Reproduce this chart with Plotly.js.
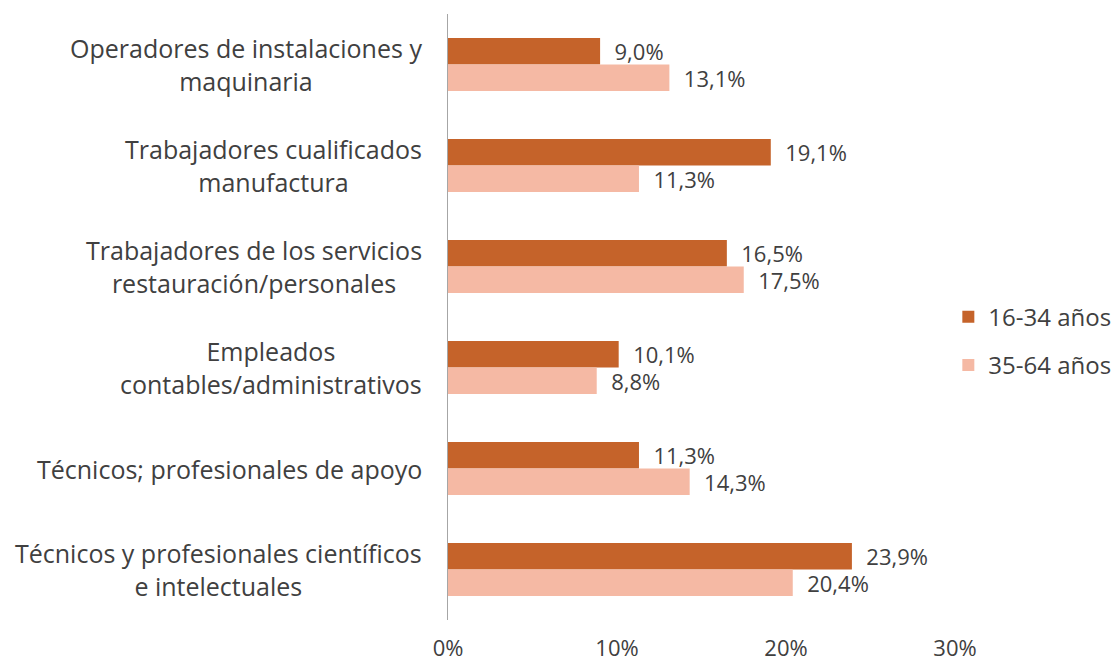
<!DOCTYPE html>
<html>
<head>
<meta charset="utf-8">
<script src="https://cdn.plot.ly/plotly-3.0.1.min.js"></script>
<style>
  html, body { margin: 0; padding: 0; background: #fff; }
</style>
</head>
<body>
<div id="chart" style="width:1117px;height:666px;"></div>
<script>
// ocupaciones (de arriba a abajo)
var categorias = [
  'Operadores de instalaciones y<br>maquinaria',
  'Trabajadores cualificados<br>manufactura',
  'Trabajadores de los servicios<br>restauración/personales',
  'Empleados<br>contables/administrativos',
  'Técnicos; profesionales de apoyo',
  'Técnicos y profesionales científicos<br>e intelectuales'
];

var jovenes = [9.0, 19.1, 16.5, 10.1, 11.3, 23.9];   // 16-34 años
var mayores = [13.1, 11.3, 17.5, 8.8, 14.3, 20.4];   // 35-64 años

var nombres = ['16-34 años', '35-64 años'];
var colores = ['#C5632A', '#F5B9A4'];
var tickVals = [0, 10, 20, 30];
var tickText = ['0%', '10%', '20%', '30%'];

var fuente = '"Open Sans", "Noto Sans", sans-serif';
var gris = '#404040';

var data = [jovenes, mayores].map(function (vals, i) {
  return {
    type: 'bar',
    orientation: 'h',
    x: vals,
    y: categorias,
    name: nombres[i],
    legendgroup: 'g' + i,
    marker: {color: colores[i]},
    texttemplate: '\u00a0\u00a0%{x:.1f}%',
    textposition: 'outside',
    constraintext: 'none',
    cliponaxis: false,
    textfont: {family: fuente, size: 22, color: gris},
    hoverinfo: 'x+name'
  };
});

// etiquetas de categoría centradas, como en el original
var etiquetas = categorias.map(function (c) {
  return {
    text: c,
    xref: 'paper', x: 0, xanchor: 'right', xshift: -24,
    yref: 'y', y: c,
    align: 'center',
    showarrow: false,
    font: {family: fuente, size: 25, color: gris}
  };
});

var layout = {
  width: 1117,
  height: 666,
  margin: {l: 448, r: 162, t: 14, b: 46, autoexpand: false},
  paper_bgcolor: '#fff',
  plot_bgcolor: '#fff',
  font: {family: fuente, color: gris},
  separators: ',.',
  barmode: 'group',
  bargap: 0.475,
  bargroupgap: 0,
  showlegend: true,
  legend: {
    xref: 'container', x: 0.849, xanchor: 'left',
    y: 0.46, yanchor: 'middle',
    traceorder: 'grouped',
    tracegroupgap: 14,
    font: {family: fuente, size: 24, color: gris}
  },
  xaxis: {
    range: [0, 30],
    tickvals: tickVals,
    ticktext: tickText,
    showgrid: false,
    zeroline: false,
    showline: false,
    ticks: 'outside',
    ticklen: 9,
    tickcolor: 'rgba(0,0,0,0)',
    tickfont: {family: fuente, size: 22, color: gris},
    fixedrange: true
  },
  yaxis: {
    type: 'category',
    autorange: 'reversed',
    showticklabels: false,
    showgrid: false,
    zeroline: false,
    showline: true,
    linecolor: '#A6A6A6',
    linewidth: 1,
    ticks: '',
    fixedrange: true
  },
  annotations: etiquetas
};

Plotly.newPlot('chart', data, layout, {displayModeBar: false, staticPlot: true});
</script>
</body>
</html>
